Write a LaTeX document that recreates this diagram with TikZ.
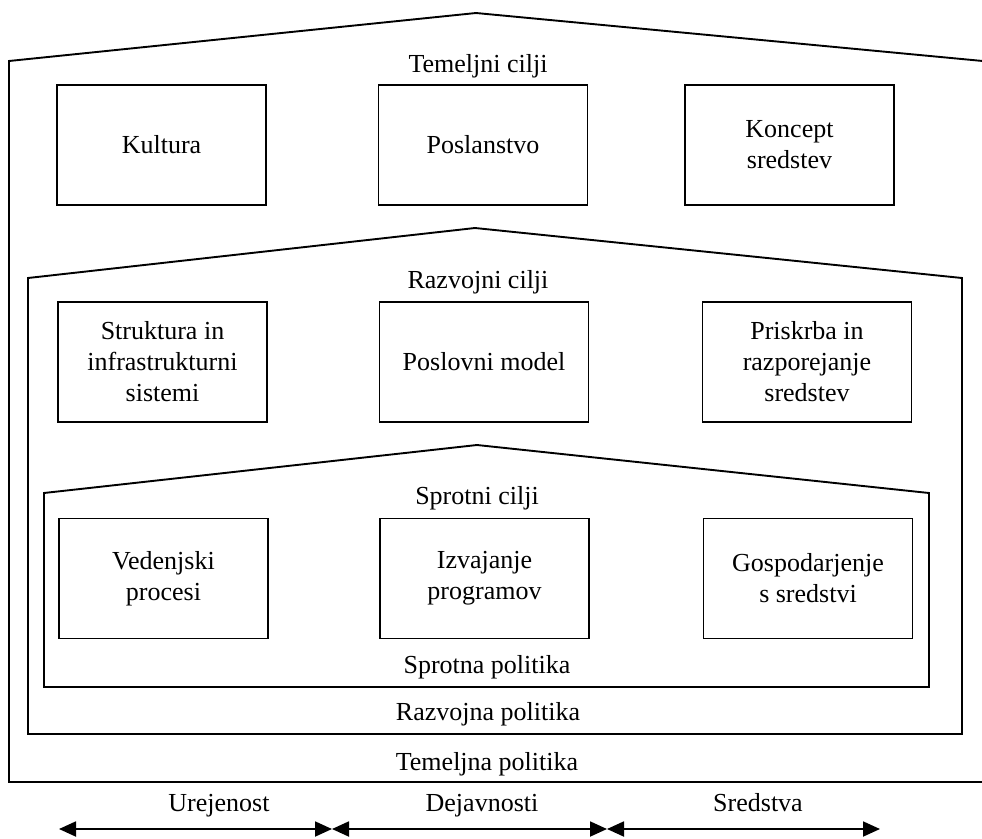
\documentclass[tikz,border=0pt]{standalone}
\usepackage{fontspec}
\setmainfont{Liberation Serif}
\usetikzlibrary{arrows.meta, positioning}

\begin{document}
\begin{tikzpicture}[
    x=1pt, y=-1pt,
    line width=1.9pt,
    goalbox/.style={rectangle, draw, line width=1.9pt, minimum width=209pt, minimum height=120pt, align=center, inner sep=0pt, font=\fontsize{26}{31}\selectfont},
    label/.style={font=\fontsize{26}{31}\selectfont, inner sep=0pt, anchor=base},
    arrow/.style={{Triangle[length=17pt, width=15pt]}-{Triangle[length=17pt, width=15pt]}, line width=1.9pt}
]
\useasboundingbox (0,0) rectangle (982,838);

% Outer house: basic level
\draw (9,782) -- (9,61) -- (476,13) -- (988,61.5) -- (988,782) -- cycle;
\node[label] (tem_cilji) at (478,72) {Temeljni cilji};
\node[goalbox] (kultura) at (161.5,145) {Kultura};
\node[goalbox] (poslanstvo) at (483,145) {Poslanstvo};
\node[goalbox] (koncept) at (789.5,145) {Koncept\\sredstev};
\node[label] (tem_pol) at (487,770) {Temeljna politika};

% Middle house: development level
\draw (28,734) -- (28,278) -- (475,228) -- (962,278) -- (962,734) -- cycle;
\node[label] (raz_cilji) at (478,288) {Razvojni cilji};
\node[goalbox] (struktura) at (162.5,362) {Struktura in\\infrastrukturni\\sistemi};
\node[goalbox] (model) at (484,362) {Poslovni model};
\node[goalbox] (priskrba) at (807,362) {Priskrba in\\razporejanje\\sredstev};
\node[label] (raz_pol) at (488,720) {Razvojna politika};

% Inner house: current level
\draw (44,687) -- (44,493) -- (477,445) -- (929,493) -- (929,687) -- cycle;
\node[label] (spr_cilji) at (477,504) {Sprotni cilji};
\node[goalbox] (vedenje) at (163.5,578.5) {Vedenjski\\procesi};
\node[goalbox] (izvajanje) at (484.5,578.5) {Izvajanje\\programov};
\node[goalbox] (gospod) at (808,578.5) {Gospodarjenje\\s sredstvi};
\node[label] (spr_pol) at (487,673) {Sprotna politika};

% Dimensions below
\coordinate (d0) at (59,829);
\coordinate (d1) at (332,829);
\coordinate (d2) at (607,829);
\coordinate (d3) at (880,829);
\node[label] (urejenost) at (219,811) {Urejenost};
\node[label] (dejavnosti) at (482,811) {Dejavnosti};
\node[label] (sredstva) at (758,811) {Sredstva};

\draw[arrow] (d0) -- (d1);
\draw[arrow] (d1) -- (d2);
\draw[arrow] (d2) -- (d3);

\end{tikzpicture}
\end{document}
